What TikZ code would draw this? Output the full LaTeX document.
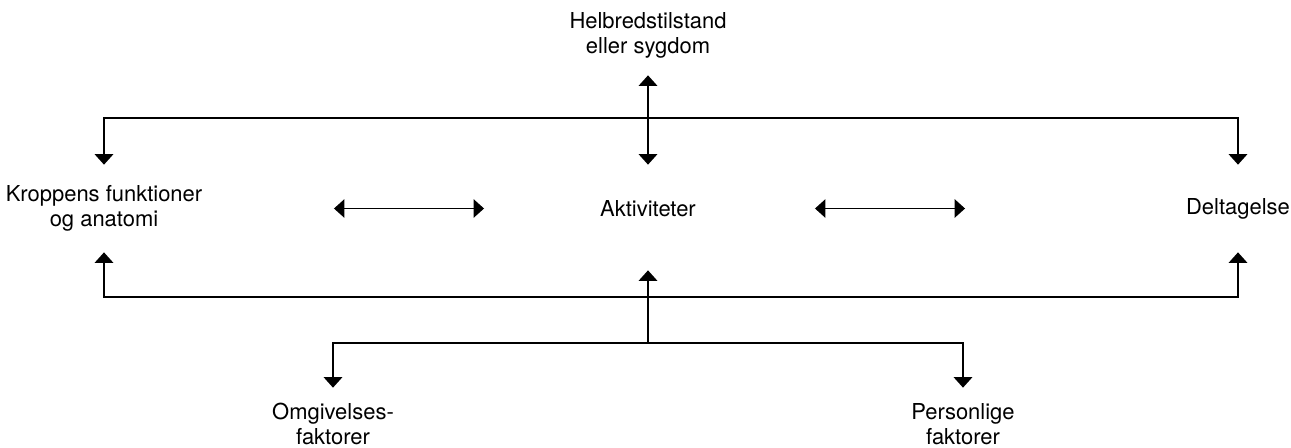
\documentclass[tikz,border=0pt]{standalone}
\usepackage{fontspec}
\setmainfont{TeX Gyre Heros}
\usepackage{tikz}
\usetikzlibrary{positioning,arrows.meta,calc}

\begin{document}
\begin{tikzpicture}[
    x=0.02cm, y=-0.02cm,
    term/.style={inner sep=0pt, align=center, font=\fontsize{12.5}{14.2}\selectfont, minimum height=1.6cm},
    midterm/.style={term, minimum height=1.74cm},
    lowterm/.style={term, minimum height=1.44cm},
    arrow/.style={-{Triangle[width=0.37cm, length=0.21cm]}, line width=0.9pt},
    dblarrow/.style={{Triangle[width=0.37cm, length=0.21cm]}-{Triangle[width=0.37cm, length=0.21cm]}, line width=0.9pt}
]
    \useasboundingbox (0,0) rectangle (1291,447);

    \node[term] (helb) at (648,35) {Helbredstilstand\\eller sygdom};
    \node[midterm] (krop) at (104,208.5) {Kroppens funktioner\\og anatomi};
    \node[midterm] (akt) at (648,208.5) {Aktiviteter};
    \node[midterm] (delt) at (1238,208.5) {Deltagelse};
    \node[lowterm] (omg) at (333,424) {Omgivelses-\\faktorer};
    \node[lowterm] (pers) at (963,424) {Personlige\\faktorer};

    \coordinate (jtop) at (648,118);
    \coordinate (jmid) at (648,297);
    \coordinate (jbot) at (648,343);

    % helbred <-> aktiviteter
    \draw[dblarrow] (helb.south) -- (akt.north);
    \draw[arrow] (jtop) -| (krop.north);
    \draw[arrow] (jtop) -| (delt.north);

    % middle row
    \draw[dblarrow] ([xshift=4.6cm]krop.center) -- ([xshift=-3.28cm]akt.center);
    \draw[dblarrow] ([xshift=3.34cm]akt.center) -- ([xshift=-5.46cm]delt.center);

    % contextual factors
    \draw[arrow] (jmid) -| (krop.south);
    \draw[arrow] (jmid) -| (delt.south);
    \draw[arrow] (jbot) -- ([yshift=-0.36cm]akt.south);
    \draw[arrow] (jbot) -| (omg.north);
    \draw[arrow] (jbot) -| (pers.north);
\end{tikzpicture}
\end{document}
